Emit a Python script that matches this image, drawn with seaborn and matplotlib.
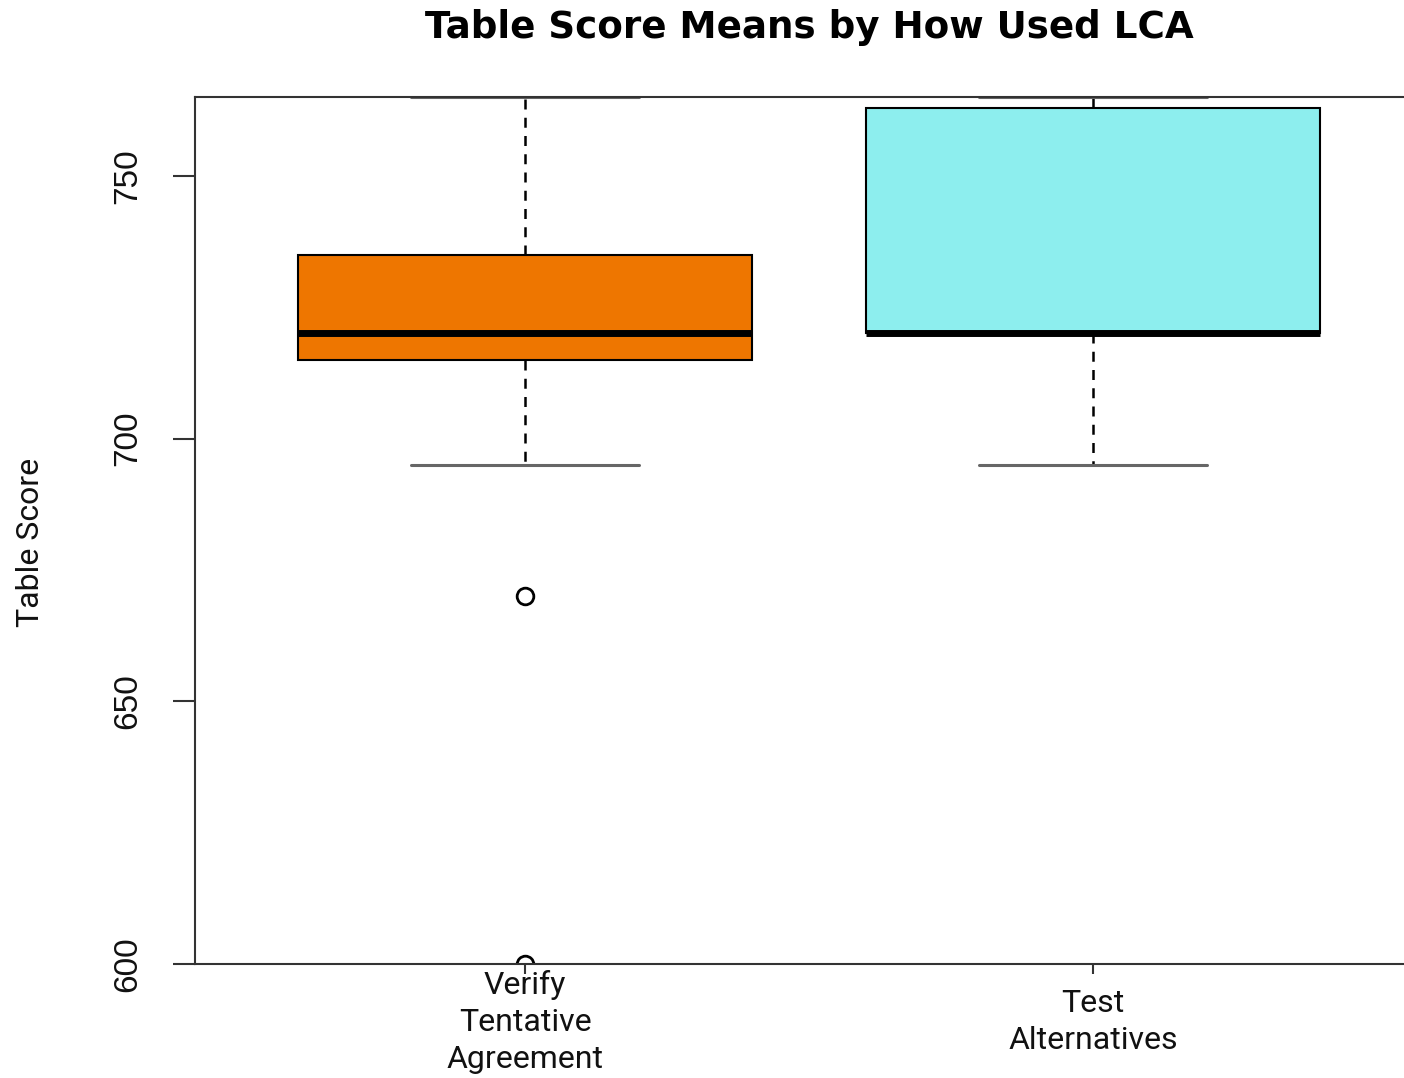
import matplotlib
matplotlib.use("Agg")
import matplotlib.pyplot as plt
import seaborn as sns
import pandas as pd

# Table scores for each way the LCA was used
categories = ["Verify\nTentative\nAgreement", "Test\nAlternatives"]
verify_scores = [600, 670, 695, 715, 715, 720, 720, 725, 730, 735, 745, 755, 765]
test_scores = [695, 720, 720, 720, 720, 740, 763, 765, 765]
box_colors = ["#EE7600", "#8DEEEE"]
y_ticks = [600, 650, 700, 750]

df = pd.DataFrame({
    "group": [categories[0]] * len(verify_scores) + [categories[1]] * len(test_scores),
    "score": verify_scores + test_scores,
})

sns.set_theme(style="white")
plt.rcParams["font.family"] = ["DejaVu Sans"]

fig = plt.figure(figsize=(14.04, 10.78), dpi=100)
ax = fig.add_axes([195 / 1404, 1 - 964 / 1078, 1 - 195 / 1404, (964 - 97) / 1078])

sns.boxplot(
    data=df, x="group", y="score", hue="group", order=categories, hue_order=categories,
    palette=box_colors, saturation=1, width=0.8, whis=1.5, legend=False,
    linecolor="black", linewidth=1.5, ax=ax,
    boxprops=dict(edgecolor="black", linewidth=1.5),
    whiskerprops=dict(color="black", linewidth=1.8, linestyle=(0, (4, 3.3))),
    capprops=dict(color="#666666", linewidth=2.2),
    medianprops=dict(color="black", linewidth=5),
    flierprops=dict(marker="o", markerfacecolor="none", markeredgecolor="black",
                    markeredgewidth=2, markersize=12),
)

ax.set_ylim(600, 765)
ax.set_xlim(-0.581, 1.5475)
ax.set_yticks(y_ticks)
ax.set_xlabel("")

for side in ["left", "bottom", "top"]:
    ax.spines[side].set_visible(True)
    ax.spines[side].set_color("#333333")
    ax.spines[side].set_linewidth(1.5)
ax.spines["right"].set_visible(False)

ax.tick_params(axis="y", which="major", left=True, length=16, width=1.5, color="#333333",
               pad=21.6, labelrotation=90, labelsize=24)
ax.tick_params(axis="x", which="major", bottom=True, length=7, width=1.5, color="#333333",
               pad=34.8, labelsize=23)

for lab in ax.get_yticklabels():
    lab.set_family(["Liberation Sans Narrow", "Liberation Sans", "DejaVu Sans"])
    lab.set_va("center")
    lab.set_color("#111111")

for lab in ax.get_xticklabels():
    lab.set_family(["Roboto", "DejaVu Sans"])
    lab.set_weight("normal")
    lab.set_va("center")
    lab.set_multialignment("center")
    lab.set_linespacing(1.33)
    lab.set_color("#111111")

ax.set_ylabel("Table Score", fontsize=23, family=["Roboto", "DejaVu Sans"],
              fontweight="normal", color="#111111")
ax.yaxis.label.set_va("center")
ax.yaxis.set_label_coords((31 - 195) / 1209, (964 - 542) / 867)

fig.text(809 / 1404, 1 - 28 / 1078, "Table Score Means by How Used LCA",
         ha="center", va="center", fontsize=26.8, fontweight="bold",
         family=["DejaVu Sans"], color="black")

fig.savefig("out.png", dpi=100)
